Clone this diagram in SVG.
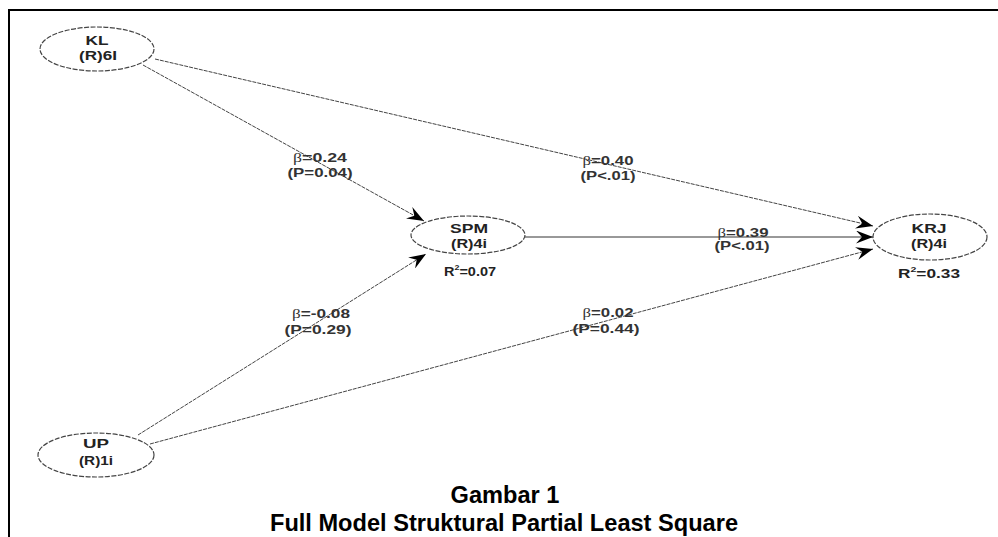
<svg xmlns="http://www.w3.org/2000/svg" width="998" height="537" viewBox="0 0 998 537">
<style>
.frame{stroke:#000;stroke-width:2;fill:none}
.node ellipse{fill:#fff;stroke:#444;stroke-width:1.2;stroke-dasharray:5 1.5}
.nt{font-family:"Liberation Sans",Arial,sans-serif;font-weight:bold;font-size:13px;fill:#222;text-anchor:middle}
.lt{font-family:"Liberation Sans",Arial,sans-serif;font-weight:bold;font-size:12px;fill:#333;text-anchor:middle}
.beta{font-family:"Liberation Serif",serif;font-weight:normal}
.edge{stroke:#444;stroke-width:1;fill:none;stroke-dasharray:4 1}
.solid{stroke:#333;stroke-dasharray:none}
.cap{font-family:"Liberation Sans",Arial,sans-serif;font-weight:bold;font-size:23.6px;fill:#000;text-anchor:middle}
</style>
<defs>
<marker id="arr" markerWidth="18" markerHeight="13" refX="17" refY="6.5" orient="auto" markerUnits="userSpaceOnUse">
<path d="M0,0 L17,6.5 L0,13 L6,6.5 Z" fill="#000"/>
</marker>
</defs>
<path class="frame" d="M9,537 L9,10 L998,10"/>
<g id="connectors">
<line class="edge" x1="143" y1="65" x2="424" y2="221" marker-end="url(#arr)"/>
<line class="edge" x1="155" y1="59" x2="873" y2="226" marker-end="url(#arr)"/>
<line class="edge solid" x1="525" y1="237" x2="873" y2="237" marker-end="url(#arr)"/>
<line class="edge" x1="138" y1="435" x2="426" y2="254" marker-end="url(#arr)"/>
<line class="edge" x1="150" y1="444" x2="873" y2="249" marker-end="url(#arr)"/>
<g id="edge-labels">
<text class="lt" x="320" y="162" textLength="54" lengthAdjust="spacingAndGlyphs"><tspan class="beta">β</tspan>=0.24</text>
<text class="lt" x="320" y="177" textLength="65" lengthAdjust="spacingAndGlyphs">(P=0.04)</text>
<text class="lt" x="608" y="165" textLength="51" lengthAdjust="spacingAndGlyphs"><tspan class="beta">β</tspan>=0.40</text>
<text class="lt" x="608" y="180" textLength="55" lengthAdjust="spacingAndGlyphs">(P&lt;.01)</text>
<text class="lt" x="743" y="237" textLength="51" lengthAdjust="spacingAndGlyphs"><tspan class="beta">β</tspan>=0.39</text>
<text class="lt" x="742" y="250" textLength="55" lengthAdjust="spacingAndGlyphs">(P&lt;.01)</text>
<text class="lt" x="321" y="318" textLength="58" lengthAdjust="spacingAndGlyphs"><tspan class="beta">β</tspan>=-0.08</text>
<text class="lt" x="318" y="334" textLength="67" lengthAdjust="spacingAndGlyphs">(P=0.29)</text>
<text class="lt" x="608" y="317" textLength="51" lengthAdjust="spacingAndGlyphs"><tspan class="beta">β</tspan>=0.02</text>
<text class="lt" x="606" y="333" textLength="67" lengthAdjust="spacingAndGlyphs">(P=0.44)</text>
</g>
</g>
<g id="node-KL" class="node">
<ellipse cx="97" cy="49" rx="57" ry="22"/>
<text class="nt" x="97" y="45" textLength="23" lengthAdjust="spacingAndGlyphs">KL</text>
<text class="nt" x="98" y="60" textLength="38" lengthAdjust="spacingAndGlyphs">(R)6I</text>
</g>
<g id="node-SPM" class="node">
<ellipse cx="468" cy="235" rx="57" ry="19"/>
<text class="nt" x="469" y="233" textLength="38" lengthAdjust="spacingAndGlyphs">SPM</text>
<text class="nt" x="469" y="248" textLength="36" lengthAdjust="spacingAndGlyphs">(R)4i</text>
<text class="nt" x="470" y="276" textLength="52" lengthAdjust="spacingAndGlyphs">R<tspan font-size="8" dy="-6">2</tspan><tspan dy="6">=0.07</tspan></text>
</g>
<g id="node-KRJ" class="node">
<ellipse cx="930" cy="237" rx="57" ry="23"/>
<text class="nt" x="929" y="233" textLength="35" lengthAdjust="spacingAndGlyphs">KRJ</text>
<text class="nt" x="929" y="248" textLength="36" lengthAdjust="spacingAndGlyphs">(R)4i</text>
<text class="nt" x="929" y="278" textLength="62" lengthAdjust="spacingAndGlyphs">R<tspan font-size="8" dy="-6">2</tspan><tspan dy="6">=0.33</tspan></text>
</g>
<g id="node-UP" class="node">
<ellipse cx="96" cy="455" rx="58" ry="22"/>
<text class="nt" x="96" y="448" textLength="26" lengthAdjust="spacingAndGlyphs">UP</text>
<text class="nt" x="96" y="465" textLength="34" lengthAdjust="spacingAndGlyphs">(R)1i</text>
</g>
<g id="caption">
<text class="cap" x="505" y="503">Gambar 1</text>
<text class="cap" x="504" y="531">Full Model Struktural Partial Least Square</text>
</g>
</svg>
